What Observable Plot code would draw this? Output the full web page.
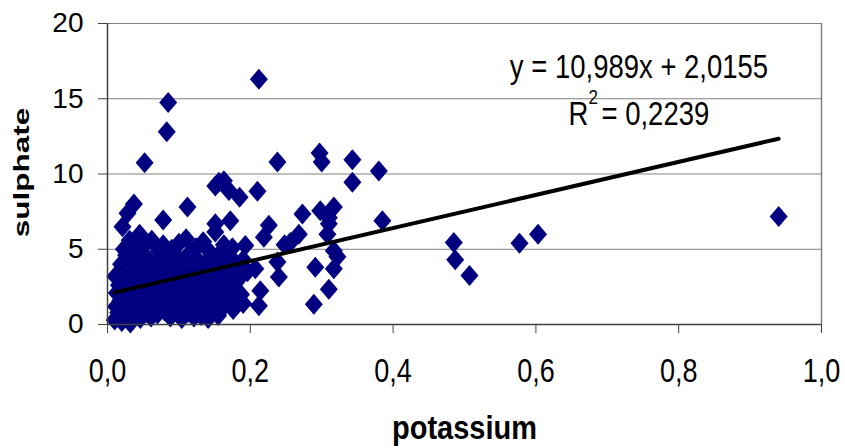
<!DOCTYPE html>
<html><head><meta charset="utf-8">
<script src="https://cdn.jsdelivr.net/npm/d3@7"></script>
<script src="https://cdn.jsdelivr.net/npm/@observablehq/plot@0.6"></script>
<style>body{margin:0;background:#fff;}</style>
</head><body><div id="chart"></div>
<script>
const potassium = [
0.010,0.012,0.013,0.011,0.015,0.016,0.018,0.019,0.020,0.021,
0.022,0.023,0.024,0.025,0.026,0.027,0.028,0.029,0.030,0.031,
0.032,0.033,0.034,0.037,0.036,0.037,0.038,0.040,0.041,0.042,
0.043,0.044,0.045,0.046,0.047,0.048,0.050,0.052,0.052,0.054,
0.055,0.056,0.058,0.060,0.061,0.062,0.064,0.066,0.067,0.069,
0.070,0.072,0.073,0.075,0.076,0.078,0.078,0.080,0.081,0.083,
0.083,0.085,0.085,0.087,0.088,0.090,0.091,0.093,0.094,0.096,
0.097,0.099,0.100,0.101,0.103,0.104,0.106,0.107,0.109,0.110,
0.112,0.112,0.113,0.115,0.116,0.118,0.119,0.121,0.122,0.124,
0.125,0.127,0.128,0.130,0.131,0.133,0.134,0.136,0.137,0.139,
0.140,0.141,0.143,0.144,0.146,0.147,0.149,0.150,0.151,0.151,
0.151,0.152,0.154,0.155,0.156,0.157,0.158,0.160,0.161,0.163,
0.163,0.165,0.166,0.168,0.170,0.170,0.172,0.172,0.173,0.175,
0.176,0.178,0.180,0.182,0.185,0.186,0.187,0.190,0.193,0.190,
0.196,0.207,0.210,0.212,0.212,0.214,0.219,0.226,0.238,0.238,
0.240,0.248,0.256,0.268,0.273,0.289,0.291,0.297,0.298,0.300,
0.308,0.310,0.310,0.310,0.317,0.317,0.322,0.317,0.343,0.343,
0.380,0.385,0.485,0.487,0.507,0.577,0.603,0.940];
const sulphate = [
0.3,1.2,2.1,3.2,0.8,2.6,1.6,4.0,0.2,6.5,
3.4,5.0,1.0,2.2,4.6,0.5,7.4,3.0,1.8,5.6,
0.1,2.7,4.2,8.0,1.3,3.6,0.6,5.2,2.0,4.8,
1.0,3.1,6.0,0.4,2.5,3.9,1.5,10.75,5.3,0.8,
2.9,4.4,1.9,3.4,0.5,5.6,2.3,4.0,1.2,3.0,
0.7,4.9,2.0,3.6,1.4,6.95,5.3,0.9,2.7,12.8,
4.2,14.75,1.6,3.3,0.5,5.0,2.2,3.9,1.1,4.6,
2.8,0.7,5.4,1.8,3.4,0.4,2.5,4.3,1.3,5.7,
7.8,3.0,0.8,2.0,4.8,1.5,3.6,0.5,2.6,5.1,
1.0,3.2,4.2,1.8,0.6,2.4,5.5,3.8,1.2,2.9,
5.0,0.4,4.4,1.9,3.3,0.9,2.3,4.1,6.7,6.15,
9.2,1.4,3.0,0.6,9.45,4.7,2.05,3.6,1.1,9.55,
5.3,4.0,2.6,1.6,8.9,3.2,6.9,4.5,2.1,5.1,
1.0,3.7,2.8,1.5,8.45,3.15,2.0,4.3,5.25,1.4,
3.5,3.7,8.85,16.3,1.25,2.25,5.8,6.6,10.8,4.15,
3.15,5.3,5.45,6.0,7.35,1.35,3.8,11.4,7.55,10.8,
6.0,7.1,6.7,2.35,7.8,4.9,4.5,3.7,10.95,9.45,
10.2,6.9,5.45,4.3,3.25,5.4,6.0,7.18];
const xTicks = [0, 0.2, 0.4, 0.6, 0.8, 1.0];
const yTicks = [0, 5, 10, 15, 20];
const gridValues = [5, 10, 15, 20];
const slope = 10.989, intercept = 2.0155, rSquared = 0.2239;
const xTitle = "potassium", yTitle = "sulphate";

const comma = (v, d) => v.toFixed(d).replace(".", ",");
const points = potassium.map((x, i) => ({x, y: sulphate[i]}));
const [xMin, xMax] = d3.extent(potassium);
const trend = [xMin, xMax].map(x => ({x, y: slope * x + intercept}));
const eqText = `y = ${comma(slope, 3)}x + ${comma(intercept, 4)}`;
const r2Text = `= ${comma(rSquared, 4)}`;
const xTickLabels = xTicks.map(d => comma(d, 1));

const diamond = {
  draw(ctx, size) {
    const s = Math.sqrt(size / Math.PI);
    const w = s * 0.9, h = s * 1.05;
    ctx.moveTo(0, -h); ctx.lineTo(w, 0); ctx.lineTo(0, h); ctx.lineTo(-w, 0); ctx.closePath();
  }
};

const font = "'Liberation Sans', Arial, sans-serif";
const chart = Plot.plot({
  width: 845, height: 448,
  marginLeft: 107, marginRight: 24, marginTop: 23, marginBottom: 124,
  style: {fontFamily: font, background: "#fff", color: "#000", overflow: "visible"},
  x: {domain: [0, 1]},
  y: {domain: [0, 20]},
  marks: [
    Plot.ruleY(gridValues, {stroke: "#808080", strokeWidth: 1}),
    Plot.ruleX([1], {stroke: "#808080", strokeWidth: 1.5}),
    Plot.axisX({ticks: xTicks, tickFormat: d => comma(d, 1), tickSize: 9, tickPadding: 25, fontSize: 27, label: null, stroke: "#404040"}),
    Plot.axisY({ticks: yTicks, tickFormat: d => String(d), tickSize: 9, tickPadding: 15, fontSize: 28, label: null, stroke: "#404040"}),
    Plot.dot(points, {x: "x", y: "y", symbol: diamond, r: 10, fill: "#000080", stroke: "none"}),
    Plot.line(trend, {x: "x", y: "y", stroke: "#000", strokeWidth: 4}),
    Plot.ruleY([0], {stroke: "#404040", strokeWidth: 1.5}),
    Plot.ruleX([0], {stroke: "#404040", strokeWidth: 1.5}),
    Plot.text([eqText], {frameAnchor: "top-left", dx: 531.5, dy: 54, lineAnchor: "bottom", textAnchor: "middle", fontSize: 27.5, fill: "#000"}),
    Plot.text(["R"], {frameAnchor: "top-left", dx: 461, dy: 101, lineAnchor: "bottom", textAnchor: "start", fontSize: 27.5, fill: "#000"}),
    Plot.text(["2"], {frameAnchor: "top-left", dx: 481, dy: 80, lineAnchor: "bottom", textAnchor: "start", fontSize: 17, fill: "#000"}),
    Plot.text([r2Text], {frameAnchor: "top-left", dx: 494, dy: 101, lineAnchor: "bottom", textAnchor: "start", fontSize: 27.5, fill: "#000"}),
    Plot.text([xTitle], {frameAnchor: "bottom", dx: 0, dy: 114, lineAnchor: "bottom", textAnchor: "middle", fontSize: 29, fontWeight: "bold", fill: "#000"}),
    Plot.text([yTitle], {frameAnchor: "left", dx: -78.6, dy: -1.5, rotate: -90, lineAnchor: "bottom", textAnchor: "middle", fontSize: 22, fontWeight: "bold", fill: "#000"})
  ]
});
document.getElementById("chart").appendChild(chart);

const svg = d3.select(chart);
const stretchText = (labels, s) => svg.selectAll("text")
  .filter(function() { return labels.includes(this.textContent); })
  .each(function() {
    const t = this.getAttribute("transform") || "";
    this.setAttribute("transform", (t + " " + s).trim());
  });
stretchText(xTickLabels, "scale(1,1.25)");
stretchText([eqText, "R", "2", r2Text], "scale(1,1.2)");
stretchText([xTitle], "scale(1,1.15)");
stretchText([yTitle], "scale(1.43,1)");
</script>
</body></html>
